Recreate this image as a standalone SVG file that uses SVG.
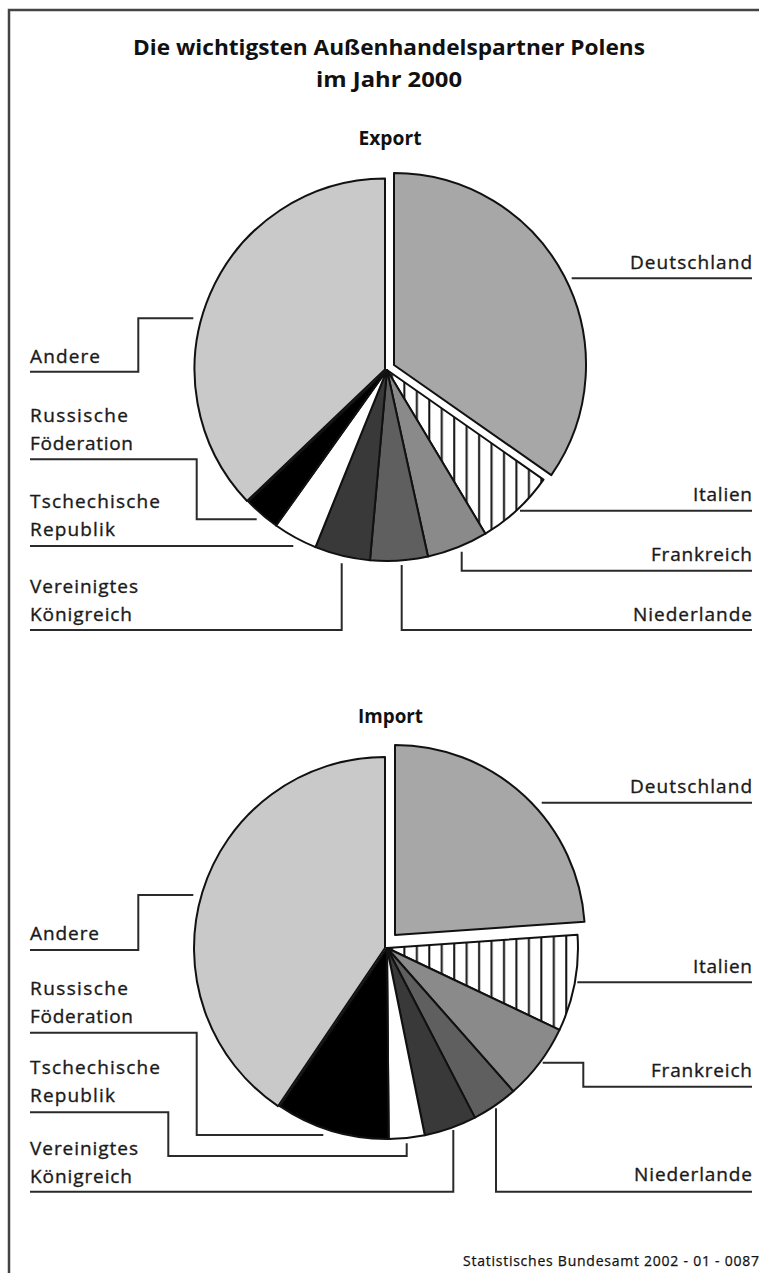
<svg xmlns="http://www.w3.org/2000/svg" width="759" height="1273" viewBox="0 0 759 1273">
<style>
.t{font-family:"Open Sans","Liberation Sans",Arial,sans-serif;font-weight:700;fill:#111;text-anchor:middle}
.l{font-family:"Open Sans","Liberation Sans",Arial,sans-serif;font-size:19px;fill:#1a1a1a;stroke:#1a1a1a;stroke-width:0.35}
.r{text-anchor:end}
.s{stroke:#111;stroke-width:2;stroke-linejoin:round}
.c{fill:none;stroke:#2a2a2a;stroke-width:2}
.de{fill:#a7a7a7}.an{fill:#c9c9c9}.fr{fill:#8a8a8a}.nl{fill:#5f5f5f}.uk{fill:#393939}.cz{fill:#fff}.ru{fill:#000}.it{fill:url(#hatch)}
</style>
<defs>
<pattern id="hatch" patternUnits="userSpaceOnUse" x="0" y="0" width="12.45" height="10">
<rect width="12.45" height="10" fill="#fff"/>
<rect x="5" y="0" width="2" height="10" fill="#111"/>
</pattern>
</defs>
<rect width="759" height="1273" fill="#fff"/>
<path d="M9,1273 V10 H759" fill="none" stroke="#444" stroke-width="2.5"/>

<g id="title">
<text class="t" x="389" y="55" font-size="22" textLength="512" lengthAdjust="spacingAndGlyphs">Die wichtigsten Außenhandelspartner Polens</text>
<text class="t" x="389" y="87" font-size="22" textLength="146" lengthAdjust="spacingAndGlyphs">im Jahr 2000</text>
</g>

<g id="export">
<text class="t" x="390" y="145" font-size="19" textLength="63" lengthAdjust="spacingAndGlyphs">Export</text>
<g id="ex-andere"><path class="s an" d="M385,369.5 L247,501 A191,191 0 0 1 385,178.5 Z"/><text class="l" x="30" y="363.3" textLength="70">Andere</text></g>
<g id="ex-deutschland"><path class="s de" d="M394,365 L394,173 A192,192 0 0 1 551.3,475.1 Z"/><text class="l r" x="752" y="269.3" textLength="122">Deutschland</text></g>
<g id="ex-italien"><path class="s it" d="M387,370 L543.5,479.6 A191,191 0 0 1 485.4,533.7 Z"/><text class="l r" x="752" y="500.7" textLength="59">Italien</text></g>
<g id="ex-frankreich"><path class="s fr" d="M387,370 L485.4,533.7 A191,191 0 0 1 428,556.5 Z"/><text class="l r" x="752" y="560.7" textLength="101">Frankreich</text></g>
<g id="ex-niederlande"><path class="s nl" d="M387,370 L428,556.5 A191,191 0 0 1 370,560.2 Z"/><text class="l r" x="752" y="620.7" textLength="119">Niederlande</text></g>
<g id="ex-uk"><path class="s uk" d="M387,370 L370,560.2 A191,191 0 0 1 315.5,547.1 Z"/><text class="l" x="30" y="592.7" textLength="108">Vereinigtes</text><text class="l" x="30" y="620.7" textLength="102">Königreich</text></g>
<g id="ex-cz"><path class="s cz" d="M387,370 L315.5,547.1 A191,191 0 0 1 276.1,525.5 Z"/><text class="l" x="30" y="508.3" textLength="130">Tschechische</text><text class="l" x="30" y="536.3" textLength="85">Republik</text></g>
<g id="ex-ru"><path class="s ru" d="M387,370 L276.1,525.5 A191,191 0 0 1 248.4,501.5 Z"/><text class="l" x="30" y="421.7" textLength="98">Russische</text><text class="l" x="30" y="450" textLength="103">Föderation</text></g>
</g>

<g id="import">
<text class="t" x="390.5" y="723.3" font-size="19" textLength="65" lengthAdjust="spacingAndGlyphs">Import</text>
<g id="im-andere"><path class="s an" d="M385,948 L278,1106.2 A191,191 0 0 1 385,757 Z"/><text class="l" x="30" y="940" textLength="69">Andere</text></g>
<g id="im-deutschland"><path class="s de" d="M395,935 L395,745 A190,190 0 0 1 584.5,921.7 Z"/><text class="l r" x="752" y="793.3" textLength="122">Deutschland</text></g>
<g id="im-italien"><path class="s it" d="M387,948 L577.5,934.7 A191,191 0 0 1 559.5,1029.9 Z"/><text class="l r" x="752" y="973.3" textLength="59">Italien</text></g>
<g id="im-frankreich"><path class="s fr" d="M387,948 L559.5,1029.9 A191,191 0 0 1 513.3,1091.3 Z"/><text class="l r" x="752" y="1077.3" textLength="101">Frankreich</text></g>
<g id="im-niederlande"><path class="s nl" d="M387,948 L513.3,1091.3 A191,191 0 0 1 474.9,1117.6 Z"/><text class="l r" x="752" y="1180.7" textLength="118">Niederlande</text></g>
<g id="im-uk"><path class="s uk" d="M387,948 L474.9,1117.6 A191,191 0 0 1 424.8,1135.2 Z"/><text class="l" x="30" y="1155" textLength="108">Vereinigtes</text><text class="l" x="30" y="1183" textLength="102">Königreich</text></g>
<g id="im-cz"><path class="s cz" d="M387,948 L424.8,1135.2 A191,191 0 0 1 388.7,1139 Z"/><text class="l" x="30" y="1074.3" textLength="130">Tschechische</text><text class="l" x="30" y="1102.3" textLength="85">Republik</text></g>
<g id="im-ru"><path class="s ru" d="M387,948 L388.7,1139 A191,191 0 0 1 279.9,1106.2 Z"/><text class="l" x="30" y="995" textLength="98">Russische</text><text class="l" x="30" y="1022.7" textLength="103">Föderation</text></g>
</g>

<g id="connectors">
<path class="c" d="M571.7,278.3 H752"/>
<path class="c" d="M520,510.7 H752"/>
<path class="c" d="M461.7,551.7 V570.7 H752"/>
<path class="c" d="M401.7,565 V630 H752"/>
<path class="c" d="M193.3,318.3 H138.3 V371.7 H30"/>
<path class="c" d="M30,459.3 H196.7 V519.3 H256.7"/>
<path class="c" d="M30,546 H293.3"/>
<path class="c" d="M30,630 H341.7 V563.3"/>
<path class="c" d="M541.7,802.7 H752"/>
<path class="c" d="M577.3,982.3 H752"/>
<path class="c" d="M542.7,1062.7 H583.3 V1086.7 H752"/>
<path class="c" d="M496,1108.3 V1191.7 H752"/>
<path class="c" d="M193.3,895 H138.3 V950 H30"/>
<path class="c" d="M30,1032.7 H196.7 V1135 H323.3"/>
<path class="c" d="M30,1112.3 H168.3 V1156 H406.7 V1143.3"/>
<path class="c" d="M30,1191.7 H453.3 V1130"/>
</g>

<text id="source" class="l" x="463" y="1266" textLength="296" style="font-size:14px;fill:#111;stroke:#111;stroke-width:0.25">Statistisches Bundesamt 2002 - 01 - 0087</text>
</svg>
